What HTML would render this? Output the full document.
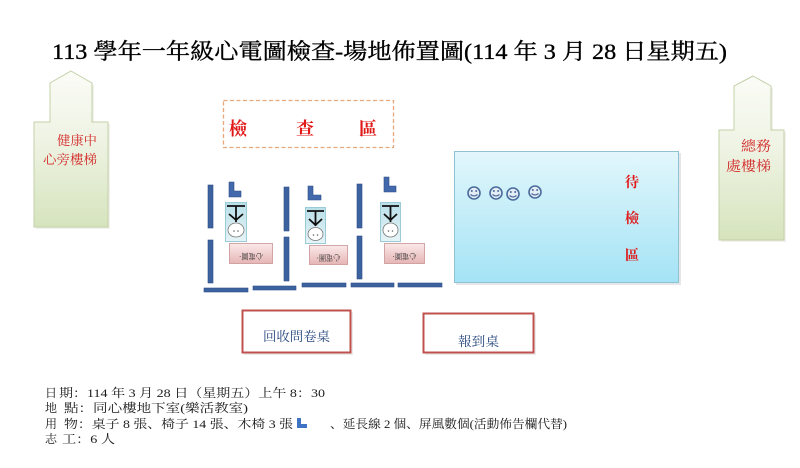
<!DOCTYPE html>
<html><head><meta charset="utf-8"><style>
html,body{margin:0;padding:0;background:#fff;}
svg{display:block;}
text{font-family:"Liberation Serif","Noto Serif CJK SC","Noto Sans CJK TC",serif;}
</style></head><body>
<svg width="800" height="468" viewBox="0 0 800 468" xmlns="http://www.w3.org/2000/svg">
<defs>
<linearGradient id="gstair" x1="0" y1="0" x2="0" y2="1">
<stop offset="0" stop-color="#fbfcf7"/><stop offset="0.45" stop-color="#eef3e3"/><stop offset="1" stop-color="#d6e4bd"/>
</linearGradient>
<linearGradient id="gblue" x1="0" y1="0" x2="0" y2="1">
<stop offset="0" stop-color="#e2f7fc"/><stop offset="1" stop-color="#a4e3f5"/>
</linearGradient>
<linearGradient id="gperson" x1="0" y1="0" x2="0" y2="1">
<stop offset="0" stop-color="#b9dfe9"/><stop offset="1" stop-color="#e6f4f7"/>
</linearGradient>
<linearGradient id="gpink" x1="0" y1="0" x2="0" y2="1">
<stop offset="0" stop-color="#fbe9e9"/><stop offset="1" stop-color="#e6b5b5"/>
</linearGradient>
</defs>

<!-- Title -->
<text x="52" y="59" font-size="22" fill="#000" stroke="#000" stroke-width="0.35" textLength="675" lengthAdjust="spacingAndGlyphs">113 學年一年級心電圖檢查-場地佈置圖(114 年 3 月 28 日星期五)</text>

<!-- Left stair -->
<polygon points="72,73 94,85 94,124 110,124 110,229 36,229 36,124 52,124 52,85" fill="#e4e8dc" opacity="0.6"/>
<polygon points="71,71 92,83 92,122 108,122 108,227 34,227 34,122 50,122 50,83" fill="url(#gstair)" stroke="#c3d0a8" stroke-width="1"/>
<text x="97" y="145" font-size="13" fill="#d42a2a" text-anchor="end" textLength="40" lengthAdjust="spacingAndGlyphs">健康中</text>
<text x="97" y="164" font-size="13" fill="#d42a2a" text-anchor="end" textLength="54" lengthAdjust="spacingAndGlyphs">心旁樓梯</text>

<!-- Right stair -->
<polygon points="754,78 773,88 773,132 786,132 786,242 721,242 721,132 736,132 736,88" fill="#e4e8dc" opacity="0.6"/>
<polygon points="753,76 771,86 771,130 784,130 784,240 719,240 719,130 734,130 734,86" fill="url(#gstair)" stroke="#c3d0a8" stroke-width="1"/>
<text x="771" y="151" font-size="14" fill="#d42a2a" text-anchor="end" textLength="30" lengthAdjust="spacingAndGlyphs">總務</text>
<text x="771" y="171" font-size="14" fill="#d42a2a" text-anchor="end" textLength="45" lengthAdjust="spacingAndGlyphs">處樓梯</text>

<!-- Dashed check area -->
<rect x="223.5" y="100.5" width="170" height="47" fill="none" stroke="#e7a77a" stroke-width="1.3" stroke-dasharray="4,2.5"/>
<text x="238" y="135" font-size="18" font-weight="bold" fill="#e01818" text-anchor="middle">檢</text>
<text x="305" y="135" font-size="18" font-weight="bold" fill="#e01818" text-anchor="middle">查</text>
<text x="368" y="135" font-size="18" font-weight="bold" fill="#e01818" text-anchor="middle">區</text>

<!-- Waiting area -->
<rect x="456" y="153" width="225" height="132" fill="#d8dde0" opacity="0.7"/>
<rect x="454.5" y="151.5" width="224" height="131" fill="url(#gblue)" stroke="#8fc3d3" stroke-width="1"/>
<text x="632" y="187" font-size="14" font-weight="bold" fill="#e01818" text-anchor="middle">待</text>
<text x="632" y="223" font-size="14" font-weight="bold" fill="#e01818" text-anchor="middle">檢</text>
<text x="632" y="260" font-size="14" font-weight="bold" fill="#e01818" text-anchor="middle">區</text>

<!-- smileys -->
<g fill="#e4edf5" stroke="#4a6c9c" stroke-width="1.6">
<circle cx="474" cy="193" r="6"/>
<circle cx="496" cy="193" r="6"/>
<circle cx="513" cy="194" r="6"/>
<circle cx="535" cy="192" r="6"/>
</g>
<g fill="#4a6c9c">
<circle cx="471.8" cy="191" r="1"/><circle cx="476.2" cy="191" r="1"/>
<circle cx="493.8" cy="191" r="1"/><circle cx="498.2" cy="191" r="1"/>
<circle cx="510.8" cy="192" r="1"/><circle cx="515.2" cy="192" r="1"/>
<circle cx="532.8" cy="190" r="1"/><circle cx="537.2" cy="190" r="1"/>
</g>
<g fill="none" stroke="#4a6c9c" stroke-width="1.2">
<path d="M470.5,194.5 Q474,197.5 477.5,194.5"/>
<path d="M492.5,194.5 Q496,197.5 499.5,194.5"/>
<path d="M509.5,195.5 Q513,198.5 516.5,195.5"/>
<path d="M531.5,193.5 Q535,196.5 538.5,193.5"/>
</g>

<!-- Partition bars -->
<g fill="#3d62a0" stroke="#2f4f86" stroke-width="0.6">
<rect x="208" y="185" width="5" height="43"/>
<rect x="208" y="240" width="5" height="43"/>
<rect x="284" y="187" width="5" height="44"/>
<rect x="284" y="237" width="5" height="44"/>
<rect x="357" y="184" width="5" height="44"/>
<rect x="357" y="236" width="5" height="43"/>
<rect x="204" y="288" width="44" height="4"/>
<rect x="253" y="286" width="43" height="4"/>
<rect x="302" y="283" width="44" height="4"/>
<rect x="351" y="283" width="43" height="4"/>
<rect x="398" y="283" width="44" height="4"/>
</g>

<!-- L chairs -->
<g fill="#4169ab" stroke="#2f4f86" stroke-width="0.6">
<path d="M229,182 h5 v9 h7 v6 h-12 z"/>
<path d="M308,186 h5 v9 h8 v5 h-13 z"/>
<path d="M384,177 h5 v9 h7 v6 h-12 z"/>
</g>

<!-- Person boxes -->
<g>
<rect x="225.5" y="202.5" width="21" height="39" fill="url(#gperson)" stroke="#9ccbd8"/>
<rect x="305.5" y="207.5" width="20" height="36" fill="url(#gperson)" stroke="#9ccbd8"/>
<rect x="380.5" y="202.5" width="20" height="39" fill="url(#gperson)" stroke="#9ccbd8"/>
</g>
<g stroke="#111" stroke-width="1.8" fill="none">
<path d="M227,206 H245 M236,206 V222 M229,214 L236,220 L243,214"/>
<path d="M307,211 H324 M315.5,211 V226 M309,219 L315.5,225 L322,219"/>
<path d="M382,206 H399 M390.5,206 V222 M384,214 L390.5,220 L397,214"/>
</g>
<g fill="#fff" stroke="#777" stroke-width="0.8">
<ellipse cx="236" cy="230" rx="8" ry="7"/>
<ellipse cx="315.5" cy="234" rx="7.5" ry="6.5"/>
<ellipse cx="390.5" cy="230" rx="7.5" ry="7"/>
</g>
<g fill="#666">
<circle cx="234" cy="231" r="0.8"/><circle cx="238" cy="231" r="0.8"/>
<circle cx="313.5" cy="235" r="0.8"/><circle cx="317.5" cy="235" r="0.8"/>
<circle cx="388.5" cy="231" r="0.8"/><circle cx="392.5" cy="231" r="0.8"/>
</g>

<!-- Pink desks -->
<g stroke="#c99494" stroke-width="0.8">
<rect x="229.5" y="243.5" width="43" height="20" fill="url(#gpink)"/>
<rect x="309.5" y="245.5" width="38" height="19" fill="url(#gpink)"/>
<rect x="384.5" y="243.5" width="40" height="20" fill="url(#gpink)"/>
</g>
<g font-size="8" fill="#333" text-anchor="middle">
<text transform="translate(251,253.5) rotate(180)" textLength="24" lengthAdjust="spacingAndGlyphs">心電圖·</text>
<text transform="translate(328.5,255) rotate(180)" textLength="24" lengthAdjust="spacingAndGlyphs">心電圖·</text>
<text transform="translate(404.5,253.5) rotate(180)" textLength="24" lengthAdjust="spacingAndGlyphs">心電圖·</text>
</g>

<!-- Bottom desks -->
<rect x="244" y="312" width="109" height="43" fill="#ddd" opacity="0.6"/>
<rect x="242.5" y="310.5" width="108" height="42" fill="#fff" stroke="#c0504d" stroke-width="2"/>
<text x="296.5" y="341" font-size="13" fill="#26457c" text-anchor="middle" textLength="67" lengthAdjust="spacingAndGlyphs">回收問卷桌</text>
<rect x="425" y="315" width="111" height="40" fill="#ddd" opacity="0.6"/>
<rect x="423.5" y="313.5" width="110" height="39" fill="#fff" stroke="#c0504d" stroke-width="2"/>
<text x="478.5" y="346" font-size="13" fill="#26457c" text-anchor="middle" textLength="41" lengthAdjust="spacingAndGlyphs">報到桌</text>

<!-- Info text -->
<g font-size="12" fill="#1a1a1a">
<text x="45" y="397">日</text>
<text x="59" y="397" textLength="266" lengthAdjust="spacingAndGlyphs">期：114 年 3 月 28 日（星期五）上午 8：30</text>
<text x="45" y="412">地</text>
<text x="64" y="412" textLength="184" lengthAdjust="spacingAndGlyphs">點：同心樓地下室(樂活教室)</text>
<text x="45" y="428">用</text>
<text x="64" y="428" textLength="229" lengthAdjust="spacingAndGlyphs">物：桌子 8 張、椅子 14 張、木椅 3 張</text>
<text x="330" y="428" textLength="237" lengthAdjust="spacingAndGlyphs">、延長線 2 個、屏風數個(活動佈告欄代替)</text>
<text x="45" y="443">志</text>
<text x="62" y="443" textLength="53" lengthAdjust="spacingAndGlyphs">工：6 人</text>
</g>
<path d="M297,418 h4 v6 h6 v4 h-10 z" fill="#3f73c4"/>
</svg>
</body></html>
